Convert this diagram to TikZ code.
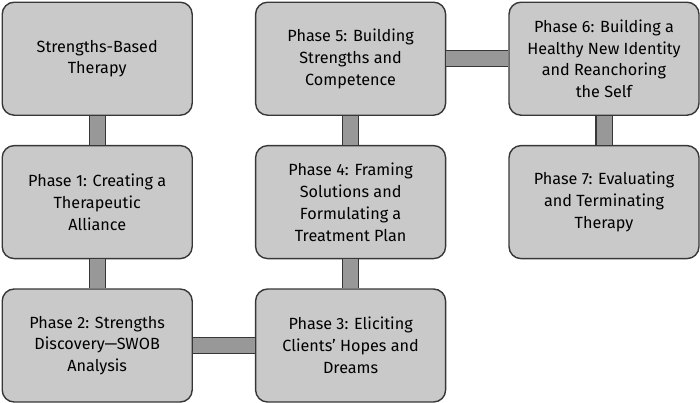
\documentclass[tikz,border=0pt]{standalone}
\usepackage{fontspec}
\setmainfont{Fira Sans}
\usepackage{xcolor}
\usepackage{tikz}
\usetikzlibrary{positioning}

\definecolor{boxgray}{RGB}{201,201,201}
\definecolor{bargray}{RGB}{152,152,152}
\definecolor{edgegray}{RGB}{55,55,55}

\begin{document}
\begin{tikzpicture}[
  x=1pt, y=1pt,
  node distance=29pt and 62pt,
  box/.style={draw=edgegray, line width=1.4pt, fill=boxgray, rounded corners=12pt, align=center,
    minimum width=190pt, minimum height=113pt, font=\fontsize{16.2}{21.8}\selectfont},
  bar/.style={draw=edgegray, line width=1.2pt, double=bargray, double distance=15pt}
]
\useasboundingbox (0,0) rectangle (700,-402);
\node[box, anchor=north west] (base) at (1.5,-1.5) {Strengths-Based\\Therapy};
\node[box, below=of base] (alliance) {Phase 1: Creating a\\Therapeutic\\Alliance};
\node[box, below=of alliance] (discovery) {Phase 2: Strengths\\Discovery---SWOB\\Analysis};
\node[box, right=of discovery] (hopes) {Phase 3: Eliciting\\Clients' Hopes and\\Dreams};
\node[box, above=of hopes] (solutions) {Phase 4: Framing\\Solutions and\\Formulating a\\Treatment Plan};
\node[box, above=of solutions] (competence) {Phase 5: Building\\Strengths and\\Competence};
\node[box, right=of competence] (identity) {Phase 6: Building a\\Healthy New Identity\\and Reanchoring\\the Self};
\node[box, below=of identity] (termination) {Phase 7: Evaluating\\and Terminating\\Therapy};
\draw[bar] (base) -- (alliance);
\draw[bar] (alliance) -- (discovery);
\draw[bar] (discovery) -- (hopes);
\draw[bar] (hopes) -- (solutions);
\draw[bar] (solutions) -- (competence);
\draw[bar] (competence) -- (identity);
\draw[bar] (identity) -- (termination);
\end{tikzpicture}
\end{document}
